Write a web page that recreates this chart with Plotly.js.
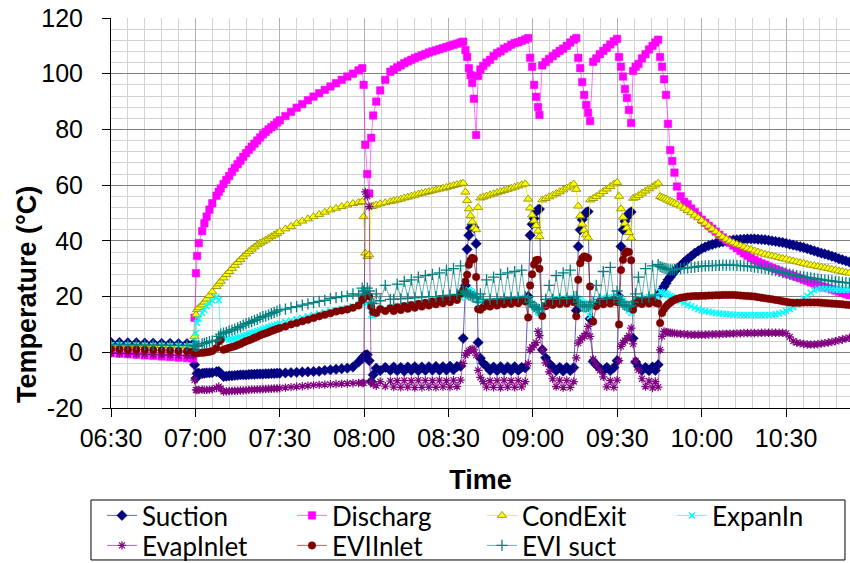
<!DOCTYPE html>
<html><head><meta charset="utf-8">
<script src="https://cdn.plot.ly/plotly-3.0.1.min.js"></script>
<style>html,body{margin:0;padding:0;background:#fff}#chart{width:850px;height:563px}</style>
</head><body><div id="chart"></div>
<script>
// minutes after 06:30 of each logged sample
const timeMin = [
 0,3,6,9,12,15,18,21,24,27,29.2,
 29.7,30.2,30.6,31.2,32.4,33.2,34,35,36,37.5,38.3,39,40,
 41,42,43,44,45,46,47,48,49,50,51,52,53,54,55,56,57,58,59,60,
 62,64,66,68,70,72,74,76,78,80,82,84,86,88,89.3,
 89.8,90.4,91.1,91.8,92.5,93.2,94.3,95.7,97.5,99.3,
 100.5,101.75,103,104.25,105.5,106.75,108,109.25,110.5,111.75,113,114.25,115.5,116.75,118,119.25,120.5,121.75,123,124.25,
 125.2,126,126.6,127.2,127.8,128.4,129,129.8,130.5,131.3,132.3,
 133.5,134.75,136,137.25,138.5,139.75,141,142.25,143.5,144.75,146,147.25,
 148.3,149,149.7,150.4,151.1,151.8,152.3,153.3,
 154.5,155.75,157,158.25,159.5,160.75,162,163.25,164.5,
 165.4,166.1,166.8,167.5,168.2,168.9,169.6,170.3,171.4,
 172.5,173.75,175,176.25,177.5,178.75,
 179.9,180.6,181.3,182,182.7,183.4,184.1,184.9,185.6,186.5,
 187.5,188.75,190,191.25,192.5,193.5,194.5,
 195.2,195.9,196.6,197.3,198,198.8,199.5,200.3,201.2,202.5,
 203.75,205,206.25,207.5,208.75,210,
 211.25,212.5,213.75,215,216.25,217.5,218.75,220,221.25,222.5,223.75,225,226.25,227.5,228.75,230,231.25,232.5,233.75,235,236.25,
 237.5,238.75,240,241.25,242.5,243.75,245,246.25,247.5,248.75,250,251.25,252.5,253.75,255,256.25,257.5,258.75,260,261.25,262.5
];
const suction = [
 3.5,3.5,3.4,3.4,3.3,3.3,3.2,3.2,3.1,3.1,3.0,
 -4.5,-9.3,-7.6,-7.5,-7.6,-7.5,-7.4,-7.4,-7.3,-7.0,-6.9,-7.6,-8.7,
 -8.6,-8.4,-8.4,-8.3,-8.2,-8.1,-8.1,-8.1,-8.0,-7.9,-7.9,-7.8,-7.8,-7.8,-7.7,-7.7,-7.6,-7.6,-7.5,-7.5,
 -7.4,-7.3,-7.2,-7.1,-7.0,-6.9,-6.8,-6.5,-6.3,-6.1,-5.9,-5.7,-5.3,-3.5,-2.1,
 -1.5,-1.0,-0.9,-3.0,-10.5,-8.1,-5.7,-6.6,-5.4,-6.5,
 -5.3,-6.6,-5.4,-6.7,-5.3,-6.5,-5.2,-6.6,-5.3,-6.5,-5.2,-6.4,-5.1,-6.5,-5.2,-6.4,-5.0,-6.3,-5.1,-5.0,
 5,24,37,42,44.6,45.8,44.8,39,3.5,-2.1,-3.9,
 -5.0,-6.5,-5.3,-6.6,-5.2,-6.5,-5.3,-6.6,-5.2,-6.5,-5.4,-5.6,
 20,42,46,48,50.5,51.2,51.4,0.9,
 -2,-4,-5.3,-6.6,-5.4,-6.7,-5.4,-6.6,-5.5,
 15,38,44,47.6,49.2,50.2,50.5,12,-3.3,
 -4.5,-5.7,-6.6,-5.4,-6.6,-5.5,
 -3,20,38,44,47,48.5,49.8,50.4,5,-3.5,
 -5.1,-6.5,-5.4,-6.6,-5.3,-6.5,-4.5,
 21.2,22.4,23.6,24.8,26,27,28,29,30,31.2,
 32.4,33.5,34.5,35.6,36.4,37.2,
 37.8,38.3,38.7,39.1,39.4,39.7,39.9,40.1,40.3,40.4,40.5,40.6,40.7,40.7,40.7,40.6,40.5,40.4,40.2,40,39.8,
 39.6,39.4,39.1,38.8,38.5,38.2,37.9,37.6,37.2,36.8,36.4,36,35.6,35.3,34.9,34.5,34.1,33.6,33.2,32.8,32.4
];
const discharg = [
 -0.3,-0.5,-0.7,-0.9,-1.1,-1.3,-1.5,-1.7,-1.9,-2.1,-2.3,
 12.4,28.4,34.6,39.2,43.5,46.3,48.7,51.2,53.5,56.2,57.6,58.8,60.4,
 61.9,63.3,64.8,66.2,67.5,68.8,70.2,71.5,72.7,73.8,74.9,76,77.1,78.2,79.1,80,80.8,81.6,82.5,83.3,
 84.8,86.3,87.8,89.1,90.5,91.8,93,94.2,95.4,96.6,97.8,99,100,101.2,102,
 96,74.5,64,57,77,85,90,94,97.8,100.7,
 101.5,102.3,103,103.8,104.4,105,105.6,106.1,106.6,107.1,107.6,108,108.4,108.8,109.2,109.6,110,110.4,110.8,111.2,
 111.5,108.5,106,102,99.5,96.7,91,78,99.2,101.5,102.8,
 104,105,106.3,107.4,108,109,109.6,110.4,111,111.3,111.8,112.3,
 112.8,105.7,102.5,96,91.7,88,85.2,103,
 104.2,105.3,106.3,107.3,108.2,109,110,111.2,112.2,
 112.8,105.7,102,97,92.4,88.8,86,83,104.3,
 105.5,107,108.2,109.3,110.5,111.6,
 112.5,106,102.5,99,94.5,91.3,87,82.3,101,102.5,
 103.5,105.5,107,108.7,110,111.2,112.2,
 106,102.5,98,92.4,82,72.6,68.7,64.5,59.5,56,
 54,53.1,51.6,50.3,49,47.6,
 46.5,45.4,44.4,43.3,42.2,41.2,40.2,39.3,38.3,37.4,36.4,35.5,34.6,33.8,33.1,32.5,31.9,31.4,30.8,30.3,29.8,
 29.3,28.8,28.3,27.9,27.5,27,26.6,26.1,25.6,25.1,24.7,24.2,23.8,23.4,23,22.6,22.2,21.8,21.4,20.9,20.5
];
const condExit = [
 2.6,2.6,2.5,2.5,2.5,2.4,2.4,2.4,2.3,2.3,2.3,
 5.7,13.5,15.3,16,17,18,19.1,20.4,21.7,23.6,24.6,25.5,26.7,
 27.9,29,30.1,31.2,32.3,33.3,34.3,35.3,36.2,37,37.8,38.6,39.2,39.7,40.3,40.9,41.5,42.1,42.7,43.3,
 44.3,45.2,46.3,47.1,47.9,48.7,49.5,50.3,51.1,51.7,52.3,52.9,53.4,53.8,54.1,
 48.7,35.6,34.4,35,52.3,52.5,52.9,53.3,53.7,54.1,
 54.4,54.7,55,55.4,55.7,56.1,56.4,56.8,57.1,57.4,57.7,58,58.3,58.6,58.9,59.2,59.5,59.9,60.2,60.5,
 60.7,57.5,54.5,51.5,49,46.8,44.7,44,52,55.4,55.7,
 56.1,56.5,56.9,57.3,57.7,58.1,58.5,58.9,59.3,59.7,60.1,60.5,
 55,51.8,49.3,47.2,45.5,43.5,41.5,54.7,
 55.2,55.8,56.4,57,57.6,58.3,59,59.7,60.4,
 58.5,52.5,49,46,43.8,42.2,41,54.7,55.2,
 55.9,56.8,57.7,58.6,59.5,60.4,
 61,56,51.5,48.5,46.2,44.6,43,41,55.3,55.6,
 56.3,57.1,57.9,58.7,59.4,60.1,60.7,
 55.9,55.6,55.3,55,54.6,54.2,53.9,53.5,53.1,52.5,
 51.7,50.9,50.1,49.2,48.3,47.3,
 46.3,45.3,44.3,43.3,42.3,41.4,40.6,39.9,39.3,38.8,38.3,37.8,37.3,36.9,36.4,36,35.6,35.2,34.9,34.6,34.3,
 34,33.7,33.4,33.1,32.8,32.5,32.2,31.9,31.6,31.3,31.1,30.8,30.6,30.3,30.1,29.8,29.5,29.2,29,28.7,28.4
];
const expanIn = [
 2.6,2.6,2.5,2.5,2.4,2.4,2.4,2.3,2.3,2.2,2.2,
 4,6.9,10.5,12,14.1,15.3,16.5,17.6,18.6,19.8,18.8,6.5,5.3,
 4.8,4.5,4.7,5,5.3,5.6,6,6.3,6.6,7,7.3,7.7,8,8.4,8.7,9.1,9.4,9.7,10,10.3,
 10.9,11.4,11.9,12.4,12.9,13.4,13.9,14.4,14.8,15.2,15.6,16,16.5,17.1,17.6,
 18,18.5,17.5,16.5,13.5,13,14,15,15.5,16,
 16.2,16.5,16.2,16.8,16.6,17,16.9,17.3,17.1,17.5,17.4,17.8,17.7,18.1,18,18.4,18.3,18.7,19,19.6,
 20,21,22,22.4,22,21.5,21,20,18.8,18,17.5,
 17.8,18.2,18,18.5,18.3,18.8,18.6,19,18.8,19.2,19.4,19.5,
 19,18,17.5,16.4,15.5,14.5,14.1,15.3,
 17,18.5,18.9,19.2,19,19.4,19.2,19.6,19.5,
 19.5,19,18.5,18,17.7,16.5,15.3,12.9,16.4,
 18,19,19.3,19.6,19.4,19.8,
 19.5,19.5,19,18.5,17.5,16.4,15,14.1,15.3,17.5,
 18.5,19.2,19.5,19.8,19.6,20,20.2,
 21.7,21.5,21.2,21,20.6,20.2,19.8,19.4,18.9,18.3,
 17.7,17.1,16.5,16,15.5,15,
 14.7,14.5,14.3,14.1,13.9,13.8,13.7,13.6,13.5,13.5,13.4,13.4,13.4,13.4,13.4,13.4,13.4,13.4,13.4,13.5,13.6,
 13.9,14.3,14.8,15.5,16.3,17.2,18.2,19.3,20.3,21.4,22.3,22.7,22.8,22.7,22.6,22.6,22.5,22.5,22.4,22.4,22.4
];
const evapInlet = [
 -0.3,-0.4,-0.5,-0.6,-0.7,-0.8,-0.9,-1.0,-1.1,-1.2,-1.3,
 -10,-13.5,-13.6,-13.5,-13.4,-13.5,-13.5,-13.4,-13.3,-12.8,-12.3,-13,-14.1,
 -14,-13.9,-13.9,-13.8,-13.8,-13.7,-13.7,-13.6,-13.5,-13.4,-13.4,-13.3,-13.3,-13.2,-13.2,-13.1,-13.1,-13,-13,-12.9,
 -12.7,-12.5,-12.3,-12.2,-12,-11.8,-11.7,-11.6,-11.5,-11.4,-11.3,-11.2,-11.1,-11,-11,
 -11,57.6,56,52.3,-10.5,-11.5,-12,-10.5,-12.2,-10.3,
 -12.5,-10.2,-12.6,-10.1,-12.5,-10.2,-12.7,-10,-12.6,-10.1,-12.5,-10.2,-12.6,-10,-12.4,-10.2,-12.5,-10,-12.3,-10,
 -4,-1,-0.3,0.5,0.9,1.2,0.9,-1,-6.5,-9,-10.5,
 -12.5,-10.2,-12.6,-10.1,-12.7,-10,-12.5,-10.2,-12.6,-10.1,-12.4,-10.5,
 -4,0.9,1.8,2.5,3.5,7.5,6,0.9,
 -3.8,-7,-9.5,-12.3,-10,-12.7,-10.1,-12.6,-10.5,
 -2,3.3,4.5,5.2,5.8,6.8,9.3,5.7,-2.5,
 -4.5,-6.5,-8.8,-12.4,-10.2,-12.6,
 -10,-3,2.1,3.5,4.2,5,6,8.7,3,-3,
 -6.3,-9.5,-12.3,-10.3,-12.8,-10.5,-12.5,
 0.9,5.7,7.5,7.3,7.1,7,6.9,6.8,6.7,6.6,
 6.5,6.4,6.3,6.3,6.3,6.3,
 6.3,6.4,6.4,6.5,6.5,6.6,6.6,6.7,6.7,6.8,6.8,6.9,6.9,6.9,6.9,6.9,7,7,7,7,7,
 7,7,6.8,5.5,4,3.5,3.2,3,2.8,2.8,2.8,2.9,3.1,3.3,3.5,3.7,4,4.3,4.6,4.9,5.2
];
const eviInlet = [
 1.2,1.1,1.0,1.0,0.9,0.8,0.7,0.6,0.5,0.4,0.3,
 0,-0.3,-0.3,-0.3,-0.2,-0.1,0,0.2,0.5,1.5,3.9,4.5,0.9,
 1.3,1.6,1.9,2.2,2.6,3,3.5,4,4.3,4.7,5.2,5.6,6.1,6.5,6.8,7.2,7.6,8,8.4,8.7,
 9.3,10,10.5,11.1,11.7,12.3,12.9,13.5,14,14.6,15,15.4,16,16.8,18.8,
 19.5,20,20.5,20,16.4,14.5,14.1,15.5,14.8,15.8,
 14.8,16.2,15.2,16.6,15.6,17,16,17.4,16.4,17.8,16.8,18.2,17.2,18.6,17.6,19,18,19.5,18.8,21,
 22.4,25.4,27.8,31.4,33,33.9,33.5,27,15.5,15.3,16.2,
 17.4,16.4,17.8,16.8,18.2,17.2,18.4,17.4,18.6,17.6,18.8,18.2,
 12.5,24,28,31.5,33,33.2,30,13,
 16.5,18,17,18.4,17.3,18.6,17.5,18.8,18,
 12.9,26,32,33.8,34.4,34.2,33.8,23.6,11,
 16.5,18.2,17.2,18.6,17.5,18.8,
 18,10,29.5,33.2,35.5,36.2,36,33,15.3,17.5,
 18.5,17.3,18.6,17.5,18.8,17.8,17.5,
 10.5,14.1,15.5,16.4,17.2,17.8,18.4,18.8,19.2,19.6,
 19.8,20,20.1,20.2,20.2,20.3,
 20.3,20.4,20.4,20.5,20.5,20.6,20.6,20.6,20.6,20.5,20.4,20.3,20.2,20.1,20,19.8,19.6,19.4,19.2,19,18.8,
 18.6,18.3,18.1,17.9,17.8,17.8,17.8,17.9,17.9,17.9,17.9,17.9,17.8,17.7,17.6,17.5,17.4,17.3,17.2,17.1,17
];
const eviSuct = [
 2.8,2.8,2.7,2.7,2.6,2.6,2.6,2.5,2.5,2.5,2.5,
 2.3,2.1,2.2,2.5,3,3.2,3.5,3.8,4,4.4,5.7,6.5,6.9,
 7.2,7.6,8,8.3,8.8,9.2,9.8,10.3,10.6,11,11.5,11.8,12.4,12.8,13,13.4,13.9,14.3,14.8,15.2,
 15.5,16,16.4,16.9,17.4,17.8,18.3,18.6,19.3,19.6,20,20.2,21,20.5,23,
 22,21,23,22,18,17.5,21,18.5,24,19,
 19,24.5,19.2,25.5,19.4,26,19.5,27,19.8,27.5,20,28,20,28.5,20.3,29.5,20.5,30,20.8,31,
 22,21.5,21,20.5,20.5,20,20,19.5,18,21,19,
 26,19,27,19.2,28,19.3,28.5,19.5,29,19.5,29.5,20,
 20,18,17,16.4,16,15.5,15.3,16,
 19,24,19,27.5,19.2,28.5,19.3,29.5,20,
 20,18,17,16.5,16.4,16.4,16.5,17,18,
 24,19,29,19.3,30.5,19.5,
 22,19,18,17.2,16.8,16.5,16.4,16.8,18,21,
 27,19.5,30,19.8,31,20.5,31.5,
 30.8,30.5,30.2,30,29.8,29.6,29.6,29.7,29.8,30,
 30.2,30.3,30.5,30.6,30.8,30.9,
 31,31.1,31.1,31.2,31.2,31.3,31.3,31.3,31.3,31.2,31.1,31,30.9,30.8,30.6,30.4,30.2,30,29.8,29.5,29.3,
 29,28.7,28.4,28.1,27.8,27.5,27.3,27.1,26.9,26.7,26.5,26.3,26.1,25.9,25.7,25.6,25.4,25.3,25.1,25,24.8
];
const xTickMinutes = [0,30,60,90,120,150,180,210,240];
const xTickLabels = ['06:30','07:00','07:30','08:00','08:30','09:00','09:30','10:00','10:30'];
const yTickValues = [-20,0,20,40,60,80,100,120];
const yTickLabels = ['-20','0','20','40','60','80','100','120'];

const seriesDefs = [
  {name:'Suction',   y:suction,   fill:'#000080', edge:'#000080', line:'rgba(0,0,128,0.6)',   symbol:'diamond',        size:8,   lw:0.5, legend:'legend'},
  {name:'Discharg',  y:discharg,  fill:'#FF00FF', edge:'#FF00FF', line:'rgba(255,0,255,0.55)', symbol:'square',         size:7.5, lw:0.5, legend:'legend'},
  {name:'CondExit',  y:condExit,  fill:'#FFFF00', edge:'#939300', line:'rgba(235,235,0,0.8)',  symbol:'triangle-up',    size:8,   lw:0.9, legend:'legend'},
  {name:'ExpanIn',   y:expanIn,   fill:'#00FFFF', edge:'#00FFFF', line:'rgba(0,230,230,0.55)', symbol:'x-thin-open',    size:6,   lw:1.5, legend:'legend', lwidth:100},
  {name:'EvapInlet', y:evapInlet, fill:'#800080', edge:'#800080', line:'rgba(128,0,128,0.6)',  symbol:'asterisk-open',  size:7,   lw:1.2, legend:'legend2'},
  {name:'EVIInlet',  y:eviInlet,  fill:'#800000', edge:'#800000', line:'rgba(128,0,0,0.6)',    symbol:'circle',         size:7.5, lw:0.5, legend:'legend2'},
  {name:'EVI suct',  y:eviSuct,   fill:'#008080', edge:'#008080', line:'rgba(0,128,128,0.6)',  symbol:'cross-thin-open',size:8,   lw:1.3, legend:'legend2', lwidth:100}
];

const traces = seriesDefs.map(s => {
  const t = {
    type:'scatter', mode:'lines+markers', name:s.name, x:timeMin, y:s.y, legend:s.legend,
    line:{color:s.line, width:1},
    marker:{symbol:s.symbol, size:s.size, color:s.fill, line:{color:s.edge, width:s.lw}}
  };
  if (s.lwidth) t.legendwidth = s.lwidth;
  return t;
});

const legendCommon = {
  orientation:'h', xanchor:'left', x:-0.0122, yanchor:'top',
  entrywidth:145, entrywidthmode:'pixels', itemwidth:30,
  font:{family:'Lato, "Noto Sans", sans-serif', size:26, color:'#000'},
  bgcolor:'rgba(0,0,0,0)', borderwidth:0, traceorder:'normal'
};

const layout = {
  width:850, height:563,
  margin:{l:111, r:0, t:18, b:155, autoexpand:false},
  paper_bgcolor:'#ffffff', plot_bgcolor:'#ffffff',
  font:{family:'Arial, "Liberation Sans", sans-serif', color:'#000'},
  showlegend:true,
  xaxis:{
    range:[0,262.7], tickmode:'array', tickvals:xTickMinutes, ticktext:xTickLabels,
    ticks:'outside', ticklen:8, tickwidth:1, tickcolor:'#000',
    showline:true, linecolor:'#000', linewidth:1, zeroline:false,
    showgrid:true, gridcolor:'#b0b0b0', gridwidth:1,
    minor:{tickmode:'linear', tick0:0, dtick:6, showgrid:true, gridcolor:'#d2d2d2', gridwidth:1},
    tickfont:{family:'Arial, "Liberation Sans", sans-serif', size:25, color:'#000'},
    title:{text:'Time', font:{family:'Arial, "Liberation Sans", sans-serif', size:27, weight:'bold', color:'#000'}, standoff:19}
  },
  yaxis:{
    range:[-20,120], tickmode:'array', tickvals:yTickValues, ticktext:yTickLabels,
    ticks:'outside', ticklen:8, tickwidth:1, tickcolor:'#000', ticklabelstandoff:14,
    showline:true, linecolor:'#000', linewidth:1, zeroline:false,
    showgrid:true, gridcolor:'#808080', gridwidth:1,
    minor:{tickmode:'linear', tick0:0, dtick:4, showgrid:true, gridcolor:'#d2d2d2', gridwidth:1},
    tickfont:{family:'Arial, "Liberation Sans", sans-serif', size:25, color:'#000'}
  },
  annotations:[{
    text:'Temperature (°C)', textangle:-90, showarrow:false,
    xref:'paper', yref:'paper', x:-0.1137, y:0.2923, xanchor:'center', yanchor:'middle',
    font:{family:'Arial, "Liberation Sans", sans-serif', size:27, weight:'bold', color:'#000'}
  }],
  legend:Object.assign({}, legendCommon, {y:-0.2154}),
  legend2:Object.assign({}, legendCommon, {y:-0.2923}),
  shapes:[{type:'rect', xref:'paper', yref:'paper', x0:-0.0271, x1:0.9932, y0:-0.2359, y1:-0.3897,
           line:{color:'#000', width:1}, fillcolor:'rgba(0,0,0,0)', layer:'above'}]
};

Plotly.newPlot('chart', traces, layout, {staticPlot:true, displayModeBar:false}).then(() => {
  const bad = seriesDefs.filter(s => s.y.length !== timeMin.length).map(s => s.name + ':' + s.y.length);
  if (bad.length) throw new Error('length mismatch, time=' + timeMin.length + ' ' + bad.join(','));
});
</script>
</body></html>
